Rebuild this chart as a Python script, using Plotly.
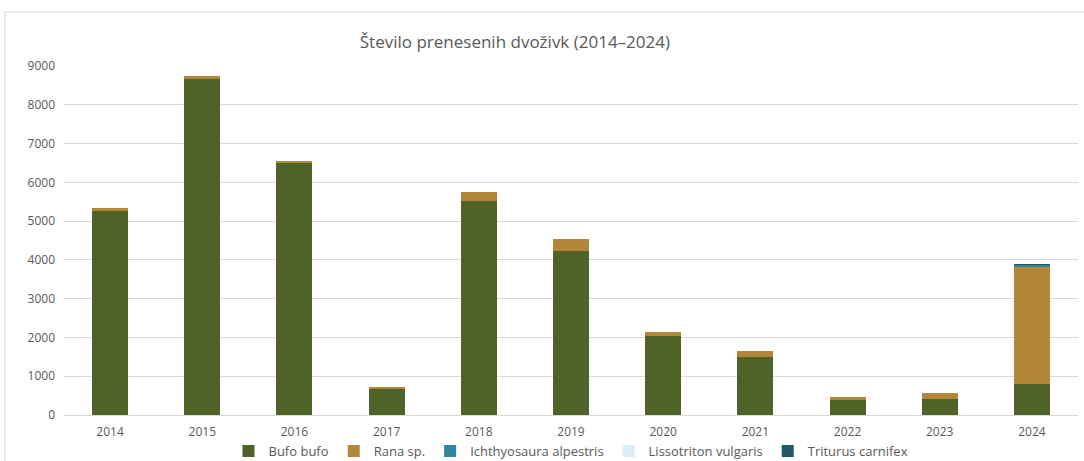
import plotly.graph_objects as go

years = ["2014", "2015", "2016", "2017", "2018", "2019", "2020", "2021", "2022", "2023", "2024"]
bufo_bufo = [5270, 8690, 6510, 680, 5530, 4240, 2040, 1490, 410, 410, 790]
rana_sp = [70, 50, 50, 30, 220, 290, 90, 160, 50, 170, 3040]
ichthyosaura_alpestris = [0, 0, 0, 0, 0, 0, 0, 0, 0, 0, 40]
lissotriton_vulgaris = [0, 0, 0, 0, 0, 0, 0, 0, 0, 0, 5]
triturus_carnifex = [0, 0, 0, 0, 0, 0, 0, 0, 0, 0, 3]

series = [
    ("Bufo bufo", bufo_bufo, "#4f6228"),
    ("Rana sp.", rana_sp, "#b3873a"),
    ("Ichthyosaura alpestris", ichthyosaura_alpestris, "#31859c"),
    ("Lissotriton vulgaris", lissotriton_vulgaris, "#daeef3"),
    ("Triturus carnifex", triturus_carnifex, "#215968"),
]

FONT = "Liberation Sans Narrow, Arial Narrow, Open Sans, sans-serif"

fig = go.Figure()
for name, vals, col in series:
    fig.add_trace(go.Bar(
        x=years, y=vals, name=name,
        marker=dict(color=col, line=dict(width=0)),
        width=0.39,
    ))

fig.update_layout(
    barmode="stack",
    width=1084, height=461,
    margin=dict(l=64, r=6, t=66, b=46, autoexpand=False),
    paper_bgcolor="white", plot_bgcolor="white",
    font=dict(family=FONT, size=12, color="#595959"),
    title=dict(text="Število prenesenih dvoživk (2014–2024)", x=0.475, xanchor="center",
               y=1 - 42 / 461, yanchor="middle",
               font=dict(family=FONT, size=17, color="#595959")),
    legend=dict(orientation="h", x=0.5, xanchor="center",
                yref="container", y=10 / 461, yanchor="middle",
                bgcolor="rgba(0,0,0,0)",
                font=dict(family=FONT, size=13, color="#595959"),
                traceorder="normal", itemwidth=30, tracegroupgap=0),
    showlegend=True,
)
fig.update_xaxes(showgrid=False, showline=True, linecolor="#d9d9d9", linewidth=1,
                 ticks="", tickfont=dict(size=12, color="#595959"), ticklabelstandoff=6)
fig.update_yaxes(range=[0, 9000], dtick=1000, showgrid=True, gridcolor="#d9d9d9",
                 gridwidth=1, zeroline=False, showline=False, ticks="",
                 tickfont=dict(size=12, color="#595959"), ticklabelstandoff=8)

fig.add_shape(type="rect", xref="paper", yref="paper",
              x0=-59 / 1014, x1=1.01, y0=-0.2, y1=1 + (66 - 12) / 349,
              line=dict(color="#d9d9d9", width=1), fillcolor="rgba(0,0,0,0)", layer="below")

fig.write_html("out.html")
